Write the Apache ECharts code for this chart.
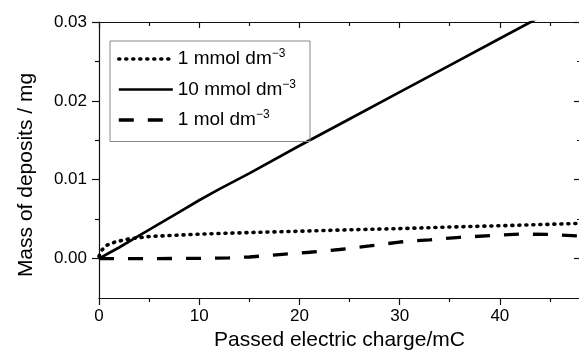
<!DOCTYPE html>
<html>
<head>
<meta charset="utf-8">
<script src="https://cdn.jsdelivr.net/npm/echarts@6/dist/echarts.min.js"></script>
<style>
  html, body { margin: 0; padding: 0; background: #fff; }
  #chart { width: 579px; height: 355px; }
</style>
</head>
<body>
<div id="chart"></div>
<script>
// passed charge (mC) and deposit mass (mg)
const charge1mmol = [0, 0.3, 0.8, 1.6, 3, 5, 10, 15, 20, 25, 30, 35, 40, 45, 48];
const mass1mmol = [0.0003, 0.0011, 0.0017, 0.0021, 0.0025, 0.0028, 0.0031, 0.0033, 0.00347, 0.00365, 0.0038, 0.0040, 0.00416, 0.00435, 0.00446];

const charge10mmol = [0, 1, 2, 4, 6, 8, 10, 12, 15, 20, 25, 30, 35, 40, 45, 48];
const mass10mmol = [0, 0.0007, 0.0014, 0.0029, 0.0044, 0.0059, 0.0074, 0.0088, 0.0108, 0.0143, 0.0177, 0.0211, 0.0245, 0.0279, 0.0313, 0.0333];

const charge1mol = [0, 5, 10, 13, 15, 18, 21, 24, 27, 30, 33, 36, 39, 42, 45, 48];
const mass1mol = [0, 0, 0.00002, 0.0001, 0.0002, 0.0005, 0.0008, 0.00115, 0.0016, 0.0021, 0.00238, 0.0027, 0.0029, 0.0031, 0.00307, 0.00285];

const seriesNames = ["1 mmol dm", "10 mmol dm", "1 mol dm"];
const unitExp = "\u22123";

const xTicks = [0, 10, 20, 30, 40];
const xMinorTicks = [5, 15, 25, 35, 45];
const yTicks = [0, 0.01, 0.02, 0.03];
const yMinorTicks = [0.005, 0.015, 0.025];

const X_MIN = 0, X_MAX = 48;
const Y_MIN = -0.005, Y_MAX = 0.03;

const FONT = "'Liberation Sans', Arial, Helvetica, sans-serif";

// one line style per series, shared by the plot and the legend sample
const styles = [
  { color: "#000", width: 3.6, type: [1, 6], cap: "round" },
  { color: "#000", width: 2.7 },
  { color: "#000", width: 3.3, type: [15, 14] },
];

function pairs(xs, ys) {
  return xs.map((x, i) => [x, ys[i]]);
}

let myChart = echarts.init(document.getElementById("chart"));

const lineAxis = { show: true, onZero: false, lineStyle: { color: "#111", width: 1.2 } };
const noLine = { show: false, onZero: false };

function xAxisOf(position, ticks, len, inside, extra) {
  return Object.assign({
    type: "value",
    position: position,
    min: X_MIN,
    max: X_MAX,
    axisLine: noLine,
    axisTick: { show: true, inside: inside, length: len, customValues: ticks, lineStyle: { color: "#111", width: 1.2 } },
    axisLabel: { show: false },
    splitLine: { show: false },
  }, extra || {});
}

function yAxisOf(position, ticks, len, inside, extra) {
  return Object.assign({
    type: "value",
    position: position,
    min: Y_MIN,
    max: Y_MAX,
    axisLine: noLine,
    axisTick: { show: true, inside: inside, length: len, customValues: ticks, lineStyle: { color: "#111", width: 1.2 } },
    axisLabel: { show: false },
    splitLine: { show: false },
  }, extra || {});
}

let option = {
  animation: false,
  backgroundColor: "#fff",
  textStyle: { fontFamily: FONT },
  grid: {
    left: 99,
    top: 22,
    right: -1,
    bottom: 57,
    containLabel: false,
    outerBoundsMode: "none",
  },
  legend: {
    orient: "vertical",
    left: 110,
    top: 41,
    padding: [7, 14, 12, 7],
    itemGap: 10,
    itemWidth: 54,
    itemHeight: 14,
    borderColor: "#888",
    borderWidth: 1,
    itemStyle: { opacity: 0 },
    data: seriesNames.map((name, i) => ({ name: name, lineStyle: styles[i] })),
    formatter: (name) => "{t|" + name + "}{s|" + unitExp + "}",
    textStyle: {
      color: "#000",
      fontFamily: FONT,
      rich: {
        t: { fontSize: 19, lineHeight: 22, color: "#000", fontFamily: FONT },
        s: { fontSize: 12, lineHeight: 12, verticalAlign: "top", color: "#000", fontFamily: FONT },
      },
    },
  },
  xAxis: [
    xAxisOf("bottom", xTicks, 7, false, {
      axisLine: lineAxis,
      axisLabel: {
        show: true,
        customValues: xTicks,
        margin: 10,
        color: "#000",
        fontSize: 17,
        fontFamily: FONT,
      },
      name: "Passed electric charge/mC",
      nameLocation: "middle",
      nameGap: 32,
      nameTextStyle: { color: "#000", fontSize: 21, fontFamily: FONT },
    }),
    xAxisOf("bottom", xMinorTicks, 4, false),
    xAxisOf("top", xTicks, 6, true, { axisLine: lineAxis }),
    xAxisOf("top", xMinorTicks, 4, true),
  ],
  yAxis: [
    yAxisOf("left", yTicks, 7, false, {
      axisLine: lineAxis,
      axisLabel: {
        show: true,
        customValues: yTicks,
        margin: 12,
        color: "#000",
        fontSize: 17,
        fontFamily: FONT,
        formatter: (v) => v.toFixed(2),
      },
      name: "Mass of deposits / mg",
      nameLocation: "middle",
      nameGap: 62,
      nameTextStyle: { color: "#000", fontSize: 21, fontFamily: FONT, padding: [0, 30, 0, 0] },
    }),
    yAxisOf("left", yMinorTicks, 4, false),
    yAxisOf("right", yTicks, 6, true, { axisLine: lineAxis }),
    yAxisOf("right", yMinorTicks, 3, true),
  ],
  series: [
    {
      name: seriesNames[0],
      type: "line",
      symbol: "none",
      clip: true,
      data: pairs(charge1mmol, mass1mmol),
      lineStyle: styles[0],
      itemStyle: { color: "#000" },
    },
    {
      name: seriesNames[1],
      type: "line",
      symbol: "none",
      clip: true,
      data: pairs(charge10mmol, mass10mmol),
      lineStyle: styles[1],
      itemStyle: { color: "#000" },
    },
    {
      name: seriesNames[2],
      type: "line",
      symbol: "none",
      clip: true,
      data: pairs(charge1mol, mass1mol),
      lineStyle: styles[2],
      itemStyle: { color: "#000" },
    },
  ],
};

myChart.setOption(option);
</script>
</body>
</html>
